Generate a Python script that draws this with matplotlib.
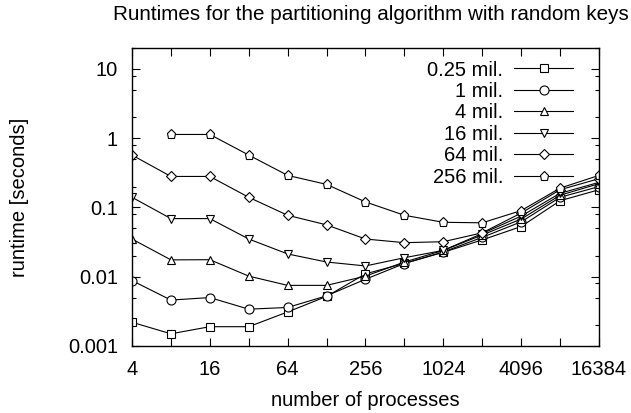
import numpy as np
import matplotlib
matplotlib.use('Agg')
import matplotlib.pyplot as plt
from matplotlib.ticker import FixedLocator, FixedFormatter, NullFormatter

plt.rcParams['font.family'] = ['Liberation Sans', 'DejaVu Sans']
plt.rcParams['font.size'] = 14.5

# number of processes
procs = [4, 8, 16, 32, 64, 128, 256, 512, 1024, 2048, 4096, 8192, 16384]

# runtimes in seconds, one list per input size
rt_025 = [0.0022, 0.0015, 0.0019, 0.0019, 0.0031, 0.0052, 0.011, 0.0156, 0.0225, 0.034, 0.053, 0.125, 0.18]
rt_1 = [0.0088, 0.0046, 0.0050, 0.0034, 0.0036, 0.0053, 0.0092, 0.0155, 0.0228, 0.037, 0.062, 0.14, 0.20]
rt_4 = [0.035, 0.0175, 0.0176, 0.0102, 0.0075, 0.0075, 0.0102, 0.0163, 0.024, 0.040, 0.068, 0.15, 0.22]
rt_16 = [0.14, 0.069, 0.069, 0.035, 0.0213, 0.0163, 0.0143, 0.0188, 0.024, 0.042, 0.075, 0.16, 0.23]
rt_64 = [0.57, 0.28, 0.28, 0.14, 0.077, 0.056, 0.035, 0.031, 0.032, 0.043, 0.083, 0.18, 0.26]
rt_256 = [np.nan, 1.13, 1.13, 0.57, 0.29, 0.215, 0.12, 0.077, 0.061, 0.060, 0.09, 0.19, 0.29]

labels = ['0.25 mil.', '1 mil.', '4 mil.', '16 mil.', '64 mil.', '256 mil.']
series = [rt_025, rt_1, rt_4, rt_16, rt_64, rt_256]
markers = ['s', 'o', '^', 'v', 'D', 'p']
msizes = [6, 6.5, 6, 6, 4.6, 6.5]

fig = plt.figure(figsize=(6.31, 4.13), dpi=100)
ax = fig.add_axes([132 / 631, 1 - 346 / 413, (599 - 132) / 631, (346 - 48) / 413])

for vals, lab, m, ms in zip(series, labels, markers, msizes):
    ax.plot(procs, vals, color='black', lw=0.8, marker=m, ms=ms,
            mfc='white', mec='black', mew=0.8, label=lab)

ax.set_xscale('log', base=2)
ax.set_yscale('log')
ax.set_xlim(4, 16384)
ax.set_ylim(0.001, 20)

ax.xaxis.set_major_locator(FixedLocator(procs))
ax.xaxis.set_major_formatter(FixedFormatter(
    [str(p) if i % 2 == 0 else '' for i, p in enumerate(procs)]))
ax.xaxis.set_minor_locator(FixedLocator([]))

yt = [0.001, 0.01, 0.1, 1, 10]
ax.yaxis.set_major_locator(FixedLocator(yt))
ax.yaxis.set_major_formatter(FixedFormatter(['0.001', '0.01', '0.1', '1', '10']))
ax.yaxis.set_minor_locator(FixedLocator([d * k for d in [0.001, 0.01, 0.1, 1, 10] for k in (2, 5, 8)]))
ax.yaxis.set_minor_formatter(NullFormatter())

ax.tick_params(which='both', direction='in', top=True, right=True, width=0.8)
ax.tick_params(which='major', length=6)
ax.tick_params(which='minor', length=3)
ax.tick_params(axis='x', pad=10)
ax.tick_params(axis='y', pad=10)
for s in ax.spines.values():
    s.set_linewidth(1.0)

ax.set_xlabel('number of processes', labelpad=9)
ax.set_ylabel('runtime [seconds]', labelpad=28)

fig.text(371 / 631, 1 - 15 / 413, 'Runtimes for the partitioning algorithm with random keys',
         ha='center', va='center', fontsize=14.9)

ax.legend(loc='upper right', bbox_to_anchor=(0.944, 0.958), markerfirst=False,
          frameon=False, numpoints=1, handlelength=2.9, handletextpad=0.55,
          labelspacing=0.12, borderaxespad=0, borderpad=0, fontsize=14.5)

fig.savefig('out.png', dpi=100)
